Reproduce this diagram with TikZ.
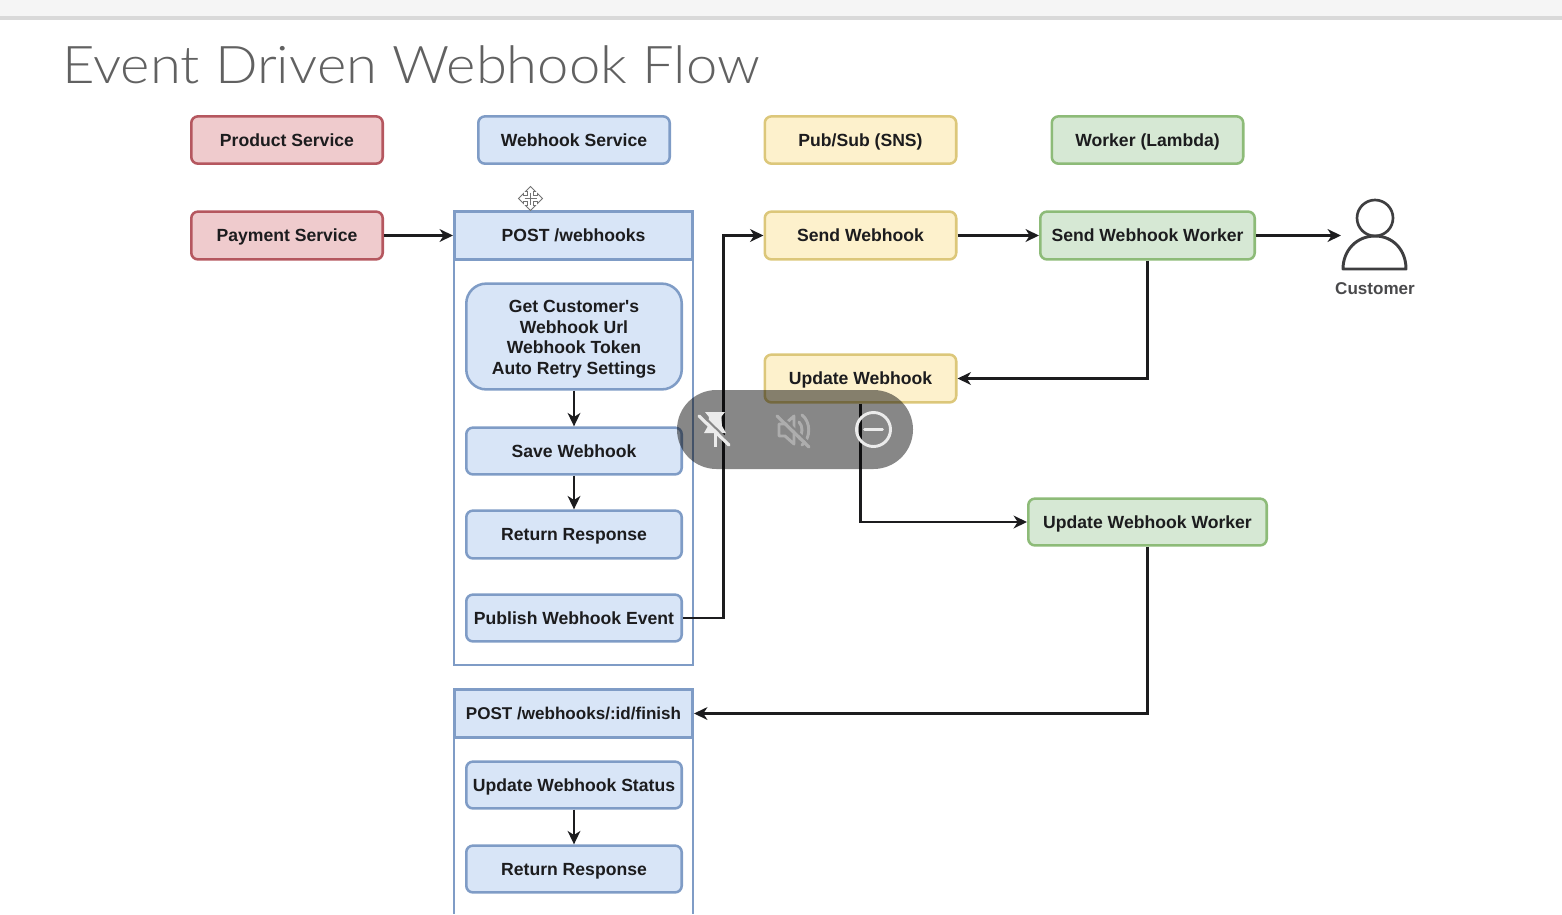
\documentclass[tikz,border=0pt]{standalone}
\usepackage{fontspec}
\setmainfont{Liberation Sans}
\newfontfamily\titlefont[FakeStretch=1.08]{Lato Light}
\newfontfamily\plainquote{Liberation Sans Bold}
\usetikzlibrary{arrows.meta,calc}
\definecolor{redf}{HTML}{EFCBCD}\definecolor{redd}{HTML}{B5575F}
\definecolor{bluef}{HTML}{D8E5F7}\definecolor{blued}{HTML}{7F9CC6}
\definecolor{yelf}{HTML}{FDF1CC}\definecolor{yeld}{HTML}{DCC77A}
\definecolor{grnf}{HTML}{D6E8D4}\definecolor{grnd}{HTML}{8DBB78}
\definecolor{ink}{HTML}{1C1C1E}
\definecolor{pillgrey}{HTML}{878787}
\tikzset{
 x=0.75pt,y=-0.75pt,
 lbl/.style={font=\fontsize{13.2}{15.3}\selectfont\bfseries,text=ink,align=center,inner sep=0pt,line width=1.9pt,anchor=center,rounded corners=5pt,text height=9.9pt,text depth=0.3pt},
 redbox/.style={lbl,draw=redd,fill=redf},
 bluebox/.style={lbl,draw=blued,fill=bluef},
 yelbox/.style={lbl,draw=yeld,fill=yelf},
 grnbox/.style={lbl,draw=grnd,fill=grnf},
 headbox/.style={lbl,draw=blued,fill=bluef,sharp corners},
 multibox/.style={bluebox,text height=,text depth=,rounded corners=15pt},
 frame/.style={draw=blued,line width=2.1pt},
 wire/.style={draw=ink,line width=1.9pt,-{Stealth[length=10pt,width=9.5pt,inset=3pt]}},
 sz/.style 2 args={minimum width=#1*0.75pt-0.4pt,minimum height=#2*0.75pt-0.9pt},
 icon/.style={draw=#1,line width=2pt,line cap=round},
}
\begin{document}
\begin{tikzpicture}
\useasboundingbox (0,0) rectangle (1562,914);
% browser strip
\fill[black!4] (0,0) rectangle (1562,16);
\fill[black!15] (0,16) rectangle (1562,19.5);
\node[anchor=west,inner sep=0pt,font=\fontsize{39}{44}\titlefont,text=black!62] (title) at (62,65) {Event Driven Webhook Flow};
% legend
\node[redbox,sz={192}{48.5}] (product) at (287,140) {Product Service};
\node[bluebox,sz={192}{48.5}] (wsvc) at (574,140) {Webhook Service};
\node[yelbox,sz={192}{48.5}] (pubsub) at (860.5,140) {Pub/Sub (SNS)};
\node[grnbox,sz={192}{48.5}] (lambda) at (1147.5,140) {Worker (Lambda)};
% container 1
\draw[frame] (454,260) -- (454,665) -- (693,665) -- (693,260);
\node[headbox,sz={239}{49}] (post) at (573.5,235.5) {POST /webhooks};
\node[redbox,sz={192}{49}] (payment) at (287,235.5) {Payment Service};
\node[multibox,sz={216}{107}] (get) at (574,336.5) {\rule{0pt}{13.3pt}Get Customer{\plainquote '}s\\Webhook Url\\Webhook Token\\Auto Retry Settings};
\node[bluebox,sz={216}{48}] (save) at (574,451) {Save Webhook};
\node[bluebox,sz={216}{49}] (ret) at (574,534.5) {Return Response};
\node[bluebox,sz={216}{48}] (publish) at (574,618) {Publish Webhook Event};
% container 2
\draw[frame] (454,738) -- (454,914);
\draw[frame] (693,738) -- (693,914);
\node[headbox,sz={239}{49},font=\fontsize{12.8}{15.3}\selectfont\bfseries] (finish) at (573.5,713.5) {POST /webhooks/:id/finish};
\node[bluebox,sz={216}{48}] (status) at (574,785) {Update Webhook Status};
\node[bluebox,sz={216}{48}] (ret2) at (574,869) {Return Response};
% right side
\node[yelbox,sz={192}{49}] (send) at (860.5,235.5) {Send Webhook};
\node[grnbox,sz={215}{49}] (sendw) at (1147.5,235.5) {Send Webhook Worker};
\node[yelbox,sz={192}{49}] (upd) at (860.5,378.5) {Update Webhook};
\node[grnbox,sz={239}{48}] (updw) at (1147.5,522) {Update Webhook Worker};
% customer
\node[circle,draw=ink!85,line width=2pt,minimum size=36*0.75pt,inner sep=0pt] (head) at (1375,218) {};
\coordinate (custin) at (1341,235.5);
\draw[ink!85,line width=2.2pt,line join=round] (1343,269) .. controls (1343,250) and (1357,236) .. (1375,236) .. controls (1393,236) and (1406,250) .. (1406,269) -- cycle;
\node[font=\fontsize{12.8}{15}\selectfont\bfseries,text=ink!80,inner sep=0pt] (custlabel) at (1375,288.5) {Customer};
% connectors
\coordinate (busb) at (723.5,618);
\coordinate (bust) at (723.5,235.5);
\draw[wire] (payment) -- (post);
\draw[wire] (get) -- (save);
\draw[wire] (save) -- (ret);
\draw[wire] (publish.east) -- (busb) -- (bust) -- (send.west);
\draw[wire] (send) -- (sendw);
\draw[wire] (sendw) -- (custin);
\draw[wire] (sendw.south) |- (upd.east);
\draw[wire] (upd.south) |- (updw.west);
\draw[wire] (updw.south) |- (finish.east);
\draw[wire] (status) -- (ret2);
% cursor mark
\begin{scope}[shift={(530.5,198.5)},draw=black!55,fill=white,line width=.6pt]
 \draw (-3,-3) -- (-3,-7) -- (-5,-7) -- (0,-12) -- (5,-7) -- (3,-7) -- (3,-3) -- (7,-3) -- (7,-5) -- (12,0) -- (7,5) -- (7,3) -- (3,3) -- (3,7) -- (5,7) -- (0,12) -- (-5,7) -- (-3,7) -- (-3,3) -- (-7,3) -- (-7,5) -- (-12,0) -- (-7,-5) -- (-7,-3) -- cycle;
 \draw (-6,0) -- (6,0) (0,-6) -- (0,6);
\end{scope}
% overlay pill
\fill[black,opacity=.47,rounded corners=39.5*0.75pt] (677,390) rectangle (913,469);
% pin icon
\begin{scope}[shift={(715,430)}]
 \fill[white!92!black] (-10,-18) -- (10,-18) -- (6,-13) -- (7,-4) -- (11,3) -- (-11,3) -- (-7,-4) -- (-6,-13) -- cycle;
 \fill[white!92!black] (-1.5,3) rectangle (1.5,17);
 \draw[pillgrey,line width=1.6pt] (-14,-16) -- (16,13);
 \draw[icon=white!92!black,line width=2.4pt] (-16,-14) -- (14,15);
\end{scope}
% muted speaker icon
\begin{scope}[shift={(794,430)}]
 \draw[icon=black!32,line width=2.2pt,line join=round] (-15,-6) -- (-9,-6) -- (0,-14) -- (0,14) -- (-9,6) -- (-15,6) -- cycle;
 \draw[icon=black!32,line width=2.2pt] (5,-8) .. controls (9,-4) and (9,4) .. (5,8);
 \draw[icon=black!32,line width=2.2pt] (8,-15) .. controls (17,-8) and (17,8) .. (8,15);
 \draw[pillgrey,line width=1.6pt] (-15,-16) -- (17,15);
 \draw[icon=black!32,line width=2.4pt] (-17,-14) -- (15,17);
\end{scope}
% minus icon
\begin{scope}[shift={(873.5,429.5)}]
 \draw[icon=white!92!black,line width=2.2pt] (0,0) circle (17);
 \draw[icon=white!92!black,line width=2.2pt] (-9,0) -- (9,0);
\end{scope}
\end{tikzpicture}
\end{document}
